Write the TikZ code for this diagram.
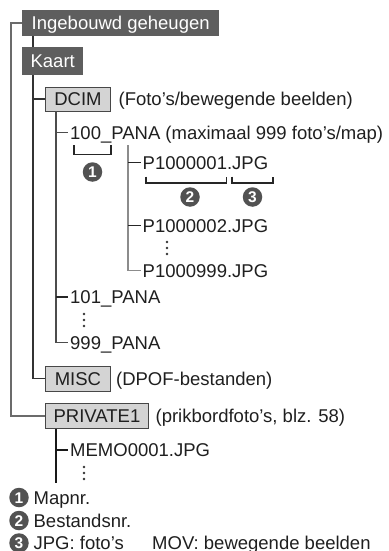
\documentclass[tikz,border=0pt]{standalone}
\usepackage{fontspec}
\setmainfont{Liberation Sans}
\usetikzlibrary{positioning}

\begin{document}
\begin{tikzpicture}[x=1pt,y=-1pt,
  every node/.style={inner sep=0pt,text height=13.2pt,text depth=0pt,
    font=\fontsize{18.5}{22}\selectfont,text=black!88},
  darkbox/.style={fill=black!63,text=white},
  lightbox/.style={draw=black!72,line width=0.9pt,fill=black!17,minimum height=24pt},
  numcirc/.style={circle,fill=black!68,text=white,minimum size=19.5pt,
    text height=11pt,font=\bfseries\fontsize{15.5}{15.5}\selectfont},
  tree/.style={draw=black!70,line width=1.3pt},
  bracketline/.style={draw=black!85,line width=1.6pt}]
\useasboundingbox (0,0) rectangle (388,551);

% storage levels
\node[darkbox,anchor=west,minimum width=197pt,minimum height=26.5pt] (intern) at (22,23) {Ingebouwd geheugen};
\node[darkbox,anchor=west,minimum width=61pt,minimum height=28pt] (kaart) at (22,61) {Kaart};
\node[lightbox,anchor=west,minimum width=65pt] (dcim) at (45,99) {DCIM};
\node[right=7.5pt of dcim] (dcimnote) {(Foto's/bewegende beelden)};

% folders and files
\node[anchor=west] (pana100) at (70,132.5) {100\_PANA (maximaal 999 foto's/map)};
\node[anchor=west] (p1) at (142.5,162.5) {P1000001.JPG};
\node[anchor=west] (p2) at (142.5,225.5) {P1000002.JPG};
\node[anchor=west] (p999) at (142.5,270.5) {P1000999.JPG};
\node[anchor=west] (pana101) at (70,297) {101\_PANA};
\node[anchor=west] (pana999) at (70,342.5) {999\_PANA};
\node[lightbox,anchor=west,minimum width=65pt,minimum height=24.5pt] (misc) at (45,378.7) {MISC};
\node[right=5pt of misc] (miscnote) {(DPOF-bestanden)};
\node[lightbox,anchor=west,minimum width=103pt,minimum height=25pt] (private) at (45,416) {PRIVATE1};
\node[right=6.5pt of private] (privnote) {(prikbordfoto's, blz. 58)};
\node[anchor=west] (memo) at (70,450) {MEMO0001.JPG};

% markers
\node[numcirc] (m1) at (92.5,172) {1};
\node[numcirc] (m2) at (190,197) {2};
\node[numcirc] (m3) at (252.5,197) {3};

% legend
\node[numcirc] (l1) at (19,497.5) {1};
\node[right=4.5pt of l1] (l1txt) {Mapnr.};
\node[numcirc] (l2) at (19,520.5) {2};
\node[right=4.5pt of l2] (l2txt) {Bestandsnr.};
\node[numcirc] (l3) at (19,543) {3};
\node[right=4.5pt of l3] (l3txt) {JPG: foto's};
\node[anchor=west] (l3mov) at (152,543) {MOV: bewegende beelden};

% tree lines
\coordinate (kline) at ([xshift=11pt]kaart.south west);
\coordinate (dline) at ([xshift=11pt]dcim.south west);
\coordinate (fline) at (128,145);
\coordinate (pline) at ([xshift=11pt]private.south west);
\coordinate (pend) at ([yshift=-54pt]pline);
\draw[tree,draw=black!58,line width=1.1pt] (intern.west) -- ++(-11,0) |- (private.west);
\draw[tree,draw=black!80] ([xshift=11pt]intern.south west) -- ([xshift=11pt]kaart.north west);
\draw[tree,draw=black!80] (kline) |- (dcim.west);
\draw[tree,draw=black!80] (kline) |- (misc.west);
\draw[tree] (dline) |- ([xshift=-2pt]pana999.west);
\draw[tree] (dline |- pana100.west) -- ([xshift=-2pt]pana100.west);
\draw[tree,draw=black!85] (dline |- pana101.west) -- ([xshift=-2pt]pana101.west);
\draw[tree,draw=black!45,line width=1.1pt] (fline) |- ([xshift=-1.5pt]p999.west);
\draw[tree,draw=black!85] (fline |- p1.west) -- ([xshift=-1.5pt]p1.west);
\draw[tree,draw=black!85] (fline |- p2.west) -- ([xshift=-1.5pt]p2.west);
\draw[tree,draw=black!90,line width=1.7pt] (pline) -- (pend);
\draw[tree,draw=black!90] (pline |- memo.west) -- ([xshift=-2pt]memo.west);

% brackets
\draw[bracketline] (74,145) |- (111,154.5) -- (111,145);
\draw[bracketline] (146,176.5) |- (226.5,183) -- (226.5,176.5);
\draw[bracketline] (232,176.5) |- (273,183) -- (273,176.5);

% continuation dots
\foreach \x/\y in {167/242, 84/314, 84/467}
  \foreach \d in {0,6,12}
    \fill[black!80] (\x,{\y+\d}) circle (1.3);
\end{tikzpicture}
\end{document}
